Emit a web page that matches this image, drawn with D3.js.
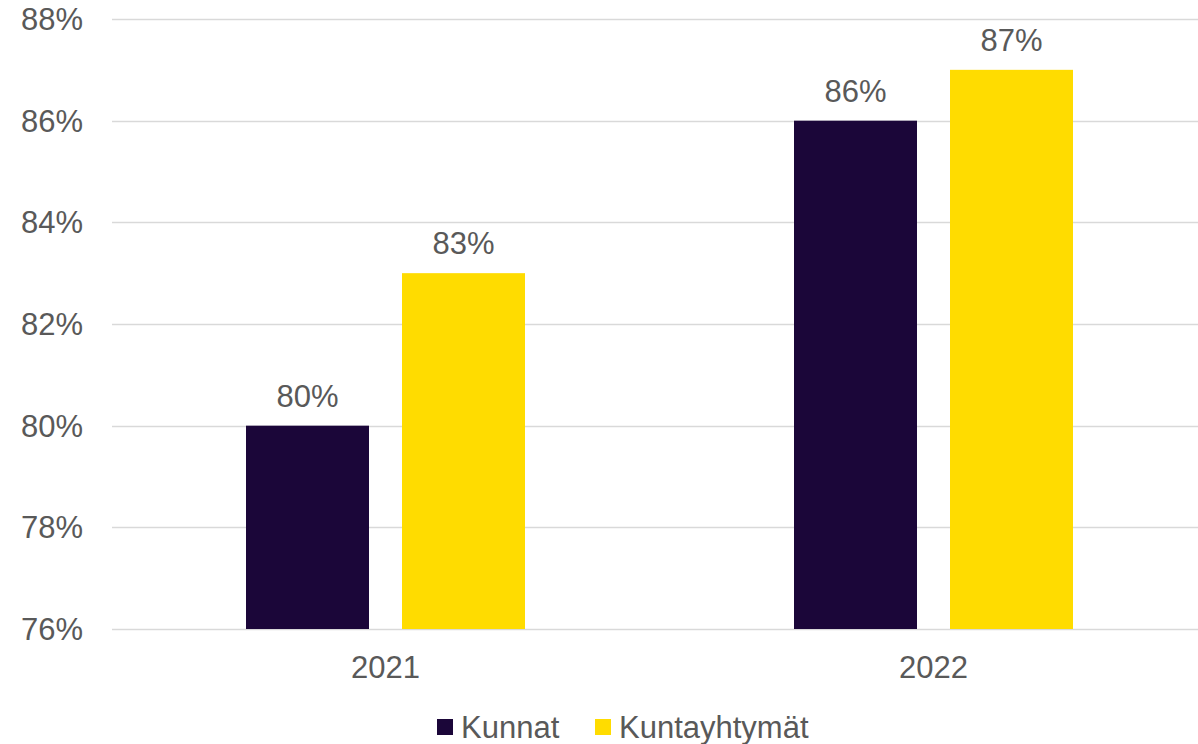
<!DOCTYPE html>
<html>
<head>
<meta charset="utf-8">
<script src="https://cdn.jsdelivr.net/npm/d3@7"></script>
<style>
  body { margin: 0; background: #fff; }
  text { font-family: "Liberation Sans", Arial, sans-serif; fill: #595959; }
</style>
</head>
<body>
<svg id="chart"></svg>
<script>
// chart data
const years = ["2021", "2022"];
const seriesNames = ["Kunnat", "Kuntayhtymät"];
const kunnat = [80, 86];
const kuntayhtymat = [83, 87];
const yTicks = [76, 78, 80, 82, 84, 86, 88];

const colors = { "Kunnat": "#1b0639", "Kuntayhtymät": "#ffdc00" };

const width = 1198, height = 744;
const svg = d3.select("#chart").attr("width", width).attr("height", height);

const x0 = d3.scaleBand().domain(years).range([111.5, 1207.5]).padding(0);
// bars sit inside each group with a small gap
const x1 = d3.scaleBand().domain(seriesNames)
    .range([134.5, 413.5]).paddingInner(33 / 156).paddingOuter(0);
const y = d3.scaleLinear().domain([76, 88]).range([629, 19]);

// gridlines
svg.append("g")
  .selectAll("line")
  .data(yTicks)
  .join("line")
    .attr("x1", 112)
    .attr("x2", width)
    .attr("y1", d => Math.round(y(d)) + 0.5)
    .attr("y2", d => Math.round(y(d)) + 0.5)
    .attr("stroke", "#d9d9d9")
    .attr("stroke-width", 1.5);

// y labels
svg.append("g")
  .selectAll("text")
  .data(yTicks)
  .join("text")
    .attr("x", 83)
    .attr("y", d => y(d))
    .attr("dy", "0.36em")
    .attr("text-anchor", "end")
    .attr("font-size", 31)
    .text(d => d + "%");

const rows = years.map((yr, i) => ({
  year: yr,
  values: [
    { key: "Kunnat", value: kunnat[i] },
    { key: "Kuntayhtymät", value: kuntayhtymat[i] }
  ]
}));

const groups = svg.append("g")
  .selectAll("g")
  .data(rows)
  .join("g")
    .attr("transform", d => `translate(${x0(d.year)},0)`);

groups.selectAll("rect")
  .data(d => d.values)
  .join("rect")
    .attr("x", d => x1(d.key))
    .attr("width", x1.bandwidth())
    .attr("y", d => y(d.value))
    .attr("height", d => y(76) - y(d.value))
    .attr("fill", d => colors[d.key]);

groups.selectAll("text.val")
  .data(d => d.values)
  .join("text")
    .attr("class", "val")
    .attr("x", d => x1(d.key) + x1.bandwidth() / 2)
    .attr("y", d => y(d.value) - 19)
    .attr("text-anchor", "middle")
    .attr("font-size", 31)
    .text(d => d.value + "%");

// x labels
svg.append("g")
  .selectAll("text")
  .data(years)
  .join("text")
    .attr("x", d => x0(d) + x0.bandwidth() / 2)
    .attr("y", 678)
    .attr("text-anchor", "middle")
    .attr("font-size", 31)
    .text(d => d);

// legend
const legendPos = [437, 595];
const legend = svg.append("g")
  .selectAll("g")
  .data(seriesNames)
  .join("g")
    .attr("transform", (d, i) => `translate(${legendPos[i]},0)`);

legend.append("rect")
  .attr("x", 0).attr("y", 719)
  .attr("width", 16).attr("height", 16)
  .attr("fill", d => colors[d]);

legend.append("text")
  .attr("x", 24)
  .attr("y", 738)
  .attr("font-size", 31)
  .text(d => d);
</script>
</body>
</html>
